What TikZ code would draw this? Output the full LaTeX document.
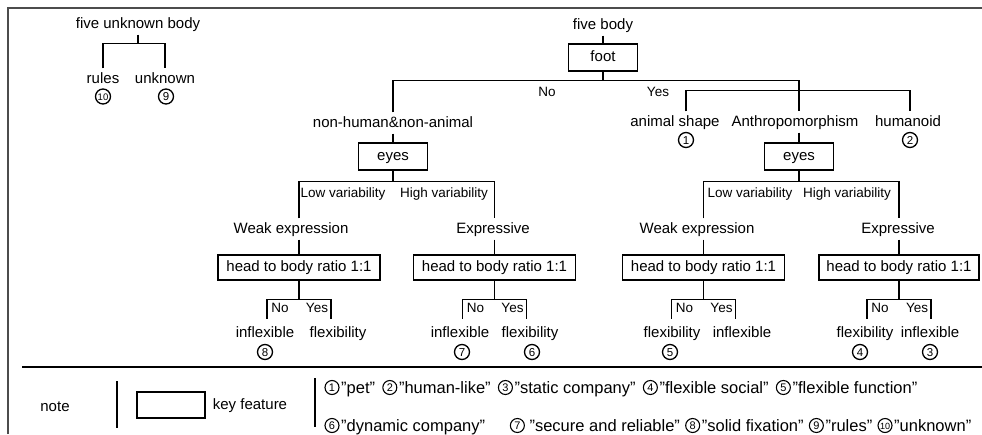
\documentclass[tikz,border=0pt]{standalone}
\usepackage{fontspec}
\setmainfont{Liberation Sans}
\usetikzlibrary{calc}
\begin{document}
\begin{tikzpicture}[x=1pt,y=-1pt,line width=1.3pt,
  lbl/.style={font=\fontsize{15}{18}\selectfont, inner xsep=1pt, inner ysep=3pt, text height=11pt, text depth=3pt, anchor=base},
  sml/.style={font=\fontsize{13.5}{16}\selectfont, inner sep=0pt, anchor=base},
  keybox/.style={draw, line width=1.3pt, minimum width=69pt, minimum height=27pt, inner sep=0pt, text height=11pt, text depth=3pt, font=\fontsize{15}{18}\selectfont},
  ratiobox/.style={keybox, minimum width=162pt, minimum height=25pt},
  circnum/.style={circle, draw, line width=1.3pt, minimum size=15pt, inner sep=0pt, font=\fontsize{11.5}{11.5}\selectfont, text height=8pt, text depth=0pt},
  lcirc/.style={circle, draw, line width=1.1pt, minimum size=14pt, inner sep=0pt, font=\fontsize{11}{11}\selectfont, text height=8pt, text depth=0pt},
  ltext/.style={font=\fontsize{16.5}{18}\selectfont, inner sep=0pt, text height=12pt, text depth=1pt, anchor=west},
  frame/.style={line width=2.5pt, black!70}]
\useasboundingbox (0,0) rectangle (982,434);
% frame
\draw[frame] (8,434) -- (8,8) -- (982,8);
% left mini tree
\node[lbl] (fub) at (138,28) {five unknown body};
\node[lbl] (rules) at (103,83) {rules};
\node[lbl] (unk) at (165,83) {unknown};
\node[circnum, font=\fontsize{9.5}{9.5}\selectfont] (n10) at (103,96.5) {10};
\node[circnum] (n9) at (166,96.5) {9};
\draw (fub.south) -- ++(0,9) coordinate (j0);
\draw (rules.north) |- (j0) -| (unk.north);
% main tree top
\node[lbl] (fb) at (603,29) {five body};
\node[keybox] (foot) at (603,57.5) {foot};
\draw (fb.south) -- (foot.north);
\draw (foot.south) -- ++(0,9) coordinate (j1);
\node[lbl] (nh) at (393,127) {non-human\&non-animal};
\node[lbl] (anth) at (795,126) {Anthropomorphism};
\node[keybox] (eyes1) at (393,156.5) {eyes};
\node[keybox] (eyes2) at (799,156.5) {eyes};
\draw (nh.north) |- (j1) -| (eyes2.north |- anth.north);
\draw (nh.south) -- (eyes1.north);
\draw (anth.south -| eyes2.north) -- (eyes2.north);
\node[sml] (no0) at (547,96) {No};
\node[sml] (yes0) at (658,96) {Yes};
\node[lbl] (anim) at (675,126) {animal shape};
\node[lbl] (hum) at (908,126) {humanoid};
\node[circnum] (n1) at (686,140) {1};
\node[circnum] (n2) at (910,140) {2};
\draw (anim.north -| n1) -- ++(0,-21) -| (hum.north -| n2);
% left subtree
\draw (eyes1.south) -- ++(0,11) coordinate (j2);
\node[sml] (lo1) at (343,197) {Low variability};
\node[sml] (hi1) at (444,197) {High variability};
\node[lbl] (we1) at (291,233) {Weak expression};
\node[lbl] (ex1) at (493,233) {Expressive};
\node[ratiobox] (hb1) at (299,267.5) {head to body ratio 1:1};
\node[ratiobox] (hb2) at (494.5,267.5) {head to body ratio 1:1};
\draw (hb1.north |- we1.north) |- (j2) -| (hb2.north |- ex1.north);
\draw (we1.south -| hb1.north) -- (hb1.north);
\draw (ex1.south -| hb2.north) -- (hb2.north);
% right subtree
\draw (eyes2.south) -- ++(0,11) coordinate (j3);
\node[sml] (lo2) at (750,197) {Low variability};
\node[sml] (hi2) at (847,197) {High variability};
\node[lbl] (we2) at (697,233) {Weak expression};
\node[lbl] (ex2) at (898,233) {Expressive};
\node[ratiobox] (hb3) at (703.5,267.5) {head to body ratio 1:1};
\node[ratiobox, minimum width=160pt] (hb4) at (899,267.5) {head to body ratio 1:1};
\draw (hb3.north |- we2.north) |- (j3) -| (hb4.north |- ex2.north);
\draw (we2.south -| hb3.north) -- (hb3.north);
\draw (ex2.south -| hb4.north) -- (hb4.north);
% small brackets
\foreach \b in {1,2,3,4}{
  \draw (hb\b.south) -- ++(0,19) coordinate (k\b);
  \draw ($(k\b)+(-32,19)$) |- ($(k\b)+(32,0)$) -- ++(0,19);
  \node[sml] (no\b) at ($(k\b)+(-19,13)$) {No};
  \node[sml] (yes\b) at ($(k\b)+(18,13)$) {Yes};
}
% leaves
\node[lbl] (l1a) at (265,337) {inflexible};
\node[lbl] (l1b) at (338,337) {flexibility};
\node[lbl] (l2a) at (460,337) {inflexible};
\node[lbl] (l2b) at (530,337) {flexibility};
\node[lbl] (l3a) at (672,337) {flexibility};
\node[lbl] (l3b) at (742,337) {inflexible};
\node[lbl] (l4a) at (865,337) {flexibility};
\node[lbl] (l4b) at (930,337) {inflexible};
\node[circnum] (n8) at (265,352) {8};
\node[circnum] (n7) at (462,352) {7};
\node[circnum] (n6) at (532,352) {6};
\node[circnum] (n5) at (670,352) {5};
\node[circnum] (n4) at (860,352) {4};
\node[circnum] (n3) at (930,352) {3};
% legend
\draw[line width=2pt] (22,367) -- (982,367);
\node[lbl] (note) at (55,411) {note};
\draw (117,381) -- (117,428);
\node[keybox, minimum width=68pt, minimum height=26pt] (key) at (171,405) {};
\node[lbl] (kf) at (250,409) {key feature};
\draw (315,378) -- (315,427);
% legend line 1
\node[lcirc] (c1) at (332,387.5) {1};
\node[ltext] (t1) at ([xshift=1pt]c1.east) {"pet"};
\node[lcirc, anchor=west] (c2) at ([xshift=6.5pt]t1.east) {2};
\node[ltext] (t2) at ([xshift=1pt]c2.east) {"human-like"};
\node[lcirc, anchor=west] (c3) at ([xshift=6.5pt]t2.east) {3};
\node[ltext] (t3) at ([xshift=1pt]c3.east) {"static company"};
\node[lcirc, anchor=west] (c4) at ([xshift=6.5pt]t3.east) {4};
\node[ltext] (t4) at ([xshift=1pt]c4.east) {"flexible social"};
\node[lcirc, anchor=west] (c5) at ([xshift=6.5pt]t4.east) {5};
\node[ltext] (t5) at ([xshift=1pt]c5.east) {"flexible function"};
% legend line 2
\node[lcirc] (c6) at (332,425.5) {6};
\node[ltext] (t6) at ([xshift=1pt]c6.east) {"dynamic company"};
\node[lcirc, anchor=west] (c7) at ([xshift=24pt]t6.east) {7};
\node[ltext] (t7) at ([xshift=4pt]c7.east) {"secure and reliable"};
\node[lcirc, anchor=west] (c8) at ([xshift=4.5pt]t7.east) {8};
\node[ltext] (t8) at ([xshift=1pt]c8.east) {"solid fixation"};
\node[lcirc, anchor=west] (c9) at ([xshift=4.5pt]t8.east) {9};
\node[ltext] (t9) at ([xshift=1pt]c9.east) {"rules"};
\node[lcirc, anchor=west, font=\fontsize{9}{9}\selectfont] (c10) at ([xshift=4.5pt]t9.east) {10};
\node[ltext] (t10) at ([xshift=1pt]c10.east) {"unknown"};
\end{tikzpicture}
\end{document}
